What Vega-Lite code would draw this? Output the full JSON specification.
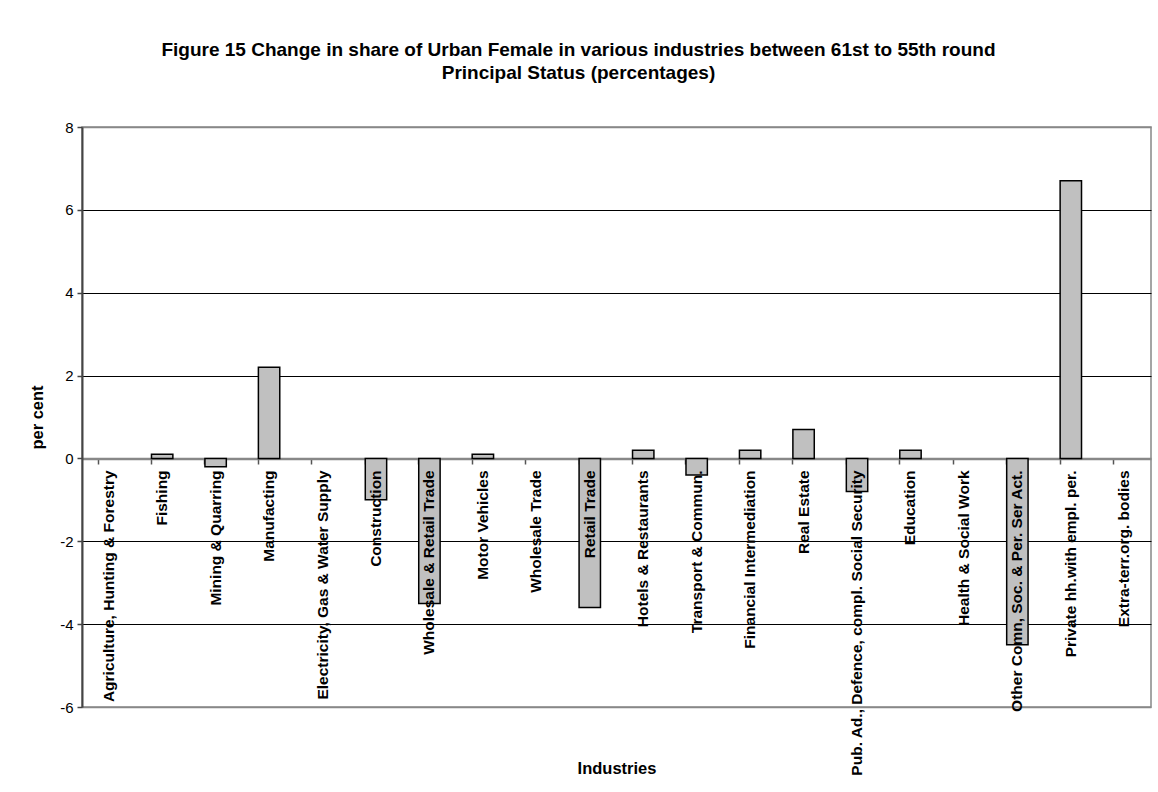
{
  "$schema": "https://vega.github.io/schema/vega-lite/v6.json",
  "autosize": {"type": "none"},
  "width": 1069,
  "height": 580,
  "padding": {"left": 82, "top": 127, "right": 7, "bottom": 85},
  "background": "white",
  "title": {
    "text": ["Figure 15 Change in share of Urban Female in various industries between 61st to 55th round", "Principal Status (percentages)"],
    "font": "Liberation Sans",
    "fontSize": 19,
    "fontWeight": "bold",
    "color": "black",
    "anchor": "middle",
    "baseline": "bottom",
    "lineHeight": 23,
    "offset": 18,
    "dx": -38
  },
  "config": {
    "view": {"stroke": "#888888", "strokeWidth": 1.5},
    "font": "Liberation Sans"
  },
  "data": {
    "values": [
      {"industry": "Agriculture,  Hunting  &  Forestry", "value": 0},
      {"industry": "Fishing", "value": 0.1},
      {"industry": "Mining  &  Quarring", "value": -0.2},
      {"industry": "Manufacting", "value": 2.2},
      {"industry": "Electricity,  Gas  &  Water Supply", "value": 0},
      {"industry": "Construction", "value": -1.0},
      {"industry": "Wholesale  &  Retail Trade", "value": -3.5},
      {"industry": "Motor Vehicles", "value": 0.1},
      {"industry": "Wholesale Trade", "value": 0},
      {"industry": "Retail Trade", "value": -3.6},
      {"industry": "Hotels  &  Restaurants", "value": 0.2},
      {"industry": "Transport  &  Commun.", "value": -0.4},
      {"industry": "Financial Intermediation", "value": 0.2},
      {"industry": "Real Estate", "value": 0.7},
      {"industry": "Pub. Ad.,  Defence,  compl. Social Security", "value": -0.8},
      {"industry": "Education", "value": 0.2},
      {"industry": "Health  &  Social Work", "value": 0},
      {"industry": "Other Comn,  Soc.  &  Per. Ser Act.", "value": -4.5},
      {"industry": "Private hh.with empl. per.", "value": 6.7},
      {"industry": "Extra-terr.org. bodies", "value": 0}
    ]
  },
  "encoding": {
    "x": {
      "field": "industry",
      "type": "nominal",
      "sort": null,
      "scale": {"paddingInner": 0.6, "paddingOuter": 0.3},
      "axis": {
        "title": "Industries",
        "titleFont": "Liberation Sans",
        "titleFontSize": 16.5,
        "titleFontWeight": "bold",
        "titleColor": "black",
        "titleY": 309,
        "titleBaseline": "middle",
        "labels": false,
        "offset": -248,
        "bandPosition": 0,
        "ticks": true,
        "tickSize": 5,
        "tickColor": "#555555",
        "tickWidth": 1.5,
        "domainColor": "#888888",
        "domainWidth": 1.5,
        "grid": false
      }
    }
  },
  "layer": [
    {
      "mark": {"type": "bar", "fill": "#C0C0C0", "stroke": "black", "strokeWidth": 1.5},
      "encoding": {
        "y": {
          "field": "value",
          "type": "quantitative",
          "scale": {"domain": [-6, 8], "nice": false, "zero": false},
          "axis": {
            "title": "per cent",
            "titleFont": "Liberation Sans",
            "titleFontSize": 16.5,
            "titleFontWeight": "bold",
            "titleColor": "black",
            "titlePadding": 14,
            "values": [-6, -4, -2, 0, 2, 4, 6, 8],
            "labelExpr": "replace(datum.label, '\u2212', '-')",
            "labelFont": "Liberation Sans",
            "labelFontSize": 15,
            "labelColor": "black",
            "labelPadding": 4,
            "tickSize": 5,
            "tickColor": "#444444",
            "tickWidth": 1.5,
            "domainColor": "#444444",
            "domainWidth": 2,
            "grid": true,
            "gridColor": {"condition": {"test": "datum.value == 0 || datum.value == 8 || datum.value == -6", "value": "#888888"}, "value": "black"},
            "gridWidth": {"condition": {"test": "datum.value == 0 || datum.value == 8 || datum.value == -6", "value": 1.5}, "value": 1}
          }
        },
        "strokeOpacity": {"condition": {"test": "datum.value == 0", "value": 0}, "value": 1}
      }
    },
    {
      "mark": {
        "type": "text",
        "angle": 270,
        "align": "right",
        "baseline": "middle",
        "dx": -12,
        "font": "Liberation Sans",
        "fontSize": 15.5,
        "fontWeight": "bold",
        "color": "black"
      },
      "encoding": {
        "y": {"datum": 0, "type": "quantitative"},
        "text": {"field": "industry"}
      }
    }
  ]
}
